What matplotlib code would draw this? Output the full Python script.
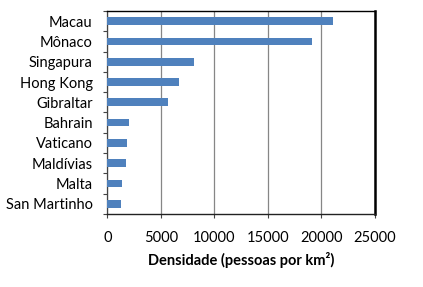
import matplotlib
matplotlib.use("Agg")
import matplotlib.pyplot as plt
import numpy as np

categories = ["Macau", "Mônaco", "Singapura", "Hong Kong", "Gibraltar",
              "Bahrain", "Vaticano", "Maldívias", "Malta", "San Martinho"]
values = [21050, 19100, 8100, 6700, 5660, 2000, 1840, 1740, 1370, 1280]
xticks = [0, 5000, 10000, 15000, 20000, 25000]
xlabel = "Densidade (pessoas por km²)"

plt.rcParams['font.family'] = ['Lato', 'DejaVu Sans']

fig = plt.figure(figsize=(4.23, 2.87), dpi=100)
ax = fig.add_axes([0.2537, 0.2544, 0.8865 - 0.2537, 0.9617 - 0.2544])

n = len(categories)
pos = np.arange(n)[::-1]
ax.barh(pos, values, height=0.38, color="#4F81BD", zorder=3)

ax.set_xlim(0, 25000)
ax.set_ylim(-0.5, n - 0.5)
ax.set_xticks(xticks)
ax.set_xticklabels([str(t) for t in xticks], fontsize=10.5)
ax.set_yticks(pos)
ax.set_yticklabels(categories, fontsize=10.5)
ax.set_yticks(np.arange(-0.5, n, 1.0), minor=True)
ax.tick_params(axis='y', which='major', length=0, pad=10.5)
ax.tick_params(axis='y', which='minor', length=3, width=0.8, color="#444444", direction='out')
ax.tick_params(axis='x', which='major', length=3, width=0.8, color="#444444", direction='out', pad=9)

ax.grid(axis='x', color="#868686", linewidth=0.9, zorder=0)
ax.spines['top'].set_color('black')
ax.spines['right'].set_color('black')
ax.spines['top'].set_linewidth(1.0)
ax.spines['right'].set_linewidth(1.8)
ax.spines['left'].set_color('#444444')
ax.spines['bottom'].set_color('#222222')
ax.spines['left'].set_linewidth(0.9)
ax.spines['bottom'].set_linewidth(1.0)

ax.set_xlabel(xlabel, fontsize=10.5, fontweight='bold', labelpad=5)

fig.savefig("out.png", dpi=100)
